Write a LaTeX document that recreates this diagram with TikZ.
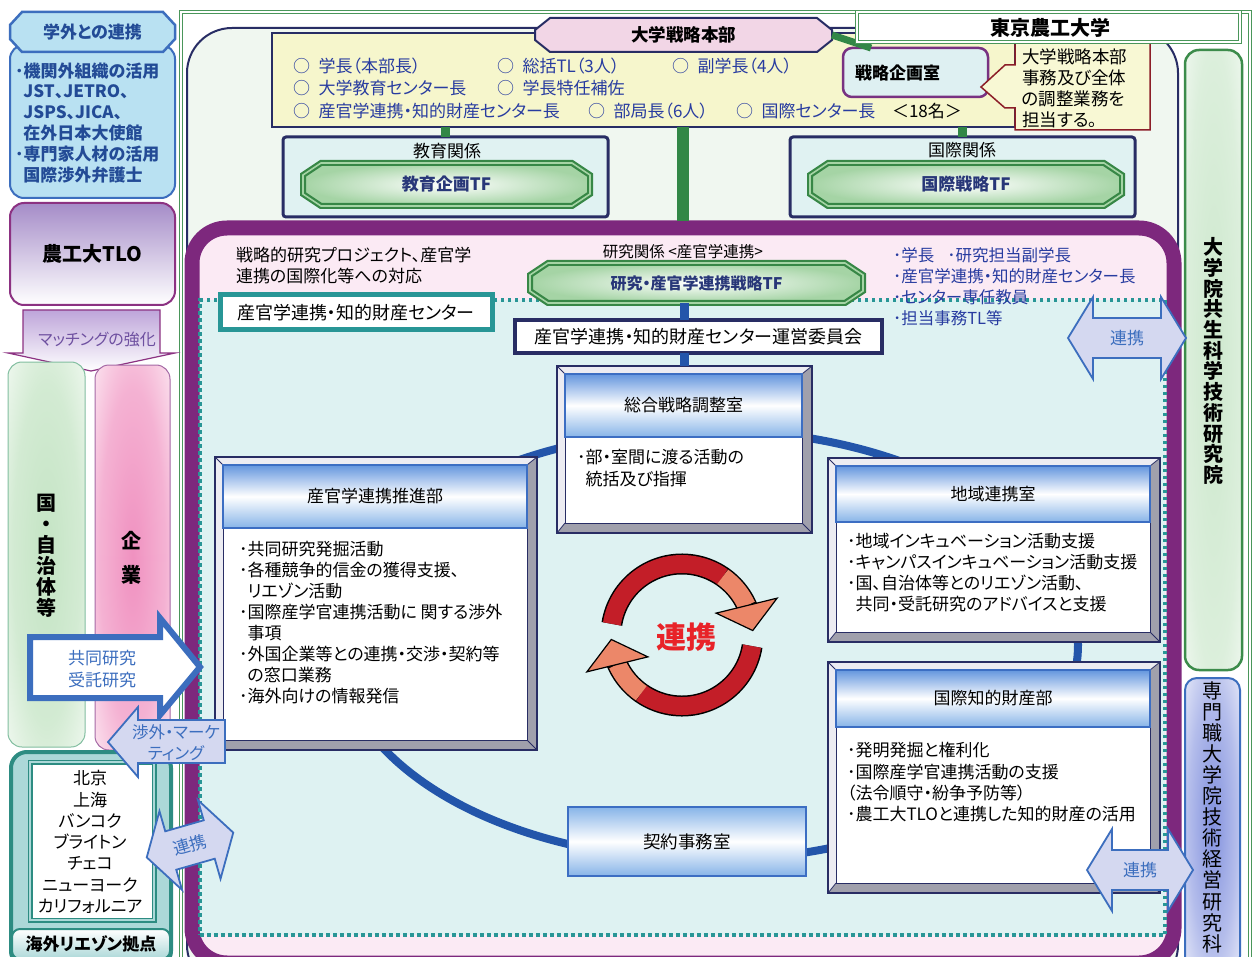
\documentclass[tikz,border=0pt]{standalone}
\usepackage{fontspec}
\setmainfont{Noto Sans CJK JP}[RawFeature=+palt]
\usepackage{tikz}
\usetikzlibrary{positioning}
\usetikzlibrary{arrows.meta}
\usetikzlibrary{bending}

\definecolor{frameGreen}{RGB}{74,150,90}
\definecolor{boxNavy}{RGB}{40,45,100}
\definecolor{mintBg}{RGB}{240,247,240}
\definecolor{hqYellow}{RGB}{246,246,204}
\definecolor{hqPink}{RGB}{242,214,230}
\definecolor{memberBlue}{RGB}{40,60,160}
\definecolor{linkGreen}{RGB}{50,135,70}
\definecolor{plannerPurple}{RGB}{120,50,130}
\definecolor{plannerFill}{RGB}{222,240,242}
\definecolor{noteRed}{RGB}{140,30,40}
\definecolor{noteFill}{RGB}{248,248,212}
\definecolor{relFill}{RGB}{224,242,242}
\definecolor{tfGreen}{RGB}{55,135,70}
\definecolor{tfLight}{RGB}{165,212,165}
\definecolor{tfText}{RGB}{40,55,120}
\definecolor{bandPurple}{RGB}{125,40,125}
\definecolor{pinkBg}{RGB}{251,234,244}
\definecolor{tealLine}{RGB}{40,150,150}
\definecolor{tealBg}{RGB}{222,242,242}
\definecolor{ringBlue}{RGB}{35,85,170}
\definecolor{hdrTop}{RGB}{100,150,222}
\definecolor{hdrBot}{RGB}{135,180,232}
\definecolor{hdrLine}{RGB}{60,110,195}
\definecolor{bevDark}{RGB}{160,160,172}
\definecolor{bevLight}{RGB}{236,236,242}
\definecolor{cycleRed}{RGB}{195,30,40}
\definecolor{cycleSalmon}{RGB}{236,135,105}
\definecolor{cycleText}{RGB}{232,35,40}
\definecolor{arrowBlue}{RGB}{60,110,190}
\definecolor{lavFill}{RGB}{212,216,240}
\definecolor{extFill}{RGB}{185,225,242}
\definecolor{extText}{RGB}{35,75,150}
\definecolor{tloPurple}{RGB}{140,50,130}
\definecolor{tloTop}{RGB}{165,140,200}
\definecolor{matchTop}{RGB}{190,165,218}
\definecolor{matchText}{RGB}{110,80,160}
\definecolor{govLine}{RGB}{130,190,160}
\definecolor{govGreen}{RGB}{196,228,196}
\definecolor{compLine}{RGB}{165,105,165}
\definecolor{compPink}{RGB}{240,145,192}
\definecolor{liaisonTeal}{RGB}{45,140,130}
\definecolor{liaisonFill}{RGB}{172,216,216}
\definecolor{gradGreen}{RGB}{60,140,75}
\definecolor{gradFill}{RGB}{205,232,205}
\definecolor{motFill}{RGB}{130,145,222}

\pgfdeclareradialshading{pinkglow}{\pgfpoint{0bp}{0bp}}{color(0bp)=(compPink); color(22bp)=(compPink!70!white); color(44bp)=(white); color(50bp)=(white)}
\pgfdeclareradialshading{greenglow}{\pgfpoint{0bp}{0bp}}{color(0bp)=(govGreen); color(22bp)=(govGreen!75!white); color(44bp)=(white); color(50bp)=(white)}
\pgfdeclareradialshading{gradglow}{\pgfpoint{0bp}{0bp}}{color(0bp)=(gradFill); color(25bp)=(gradFill!70!white); color(46bp)=(white); color(50bp)=(white)}
\pgfdeclareradialshading{motglow}{\pgfpoint{0bp}{0bp}}{color(0bp)=(motFill); color(22bp)=(motFill!60!white); color(44bp)=(white); color(50bp)=(white)}

\newcommand{\sz}[2]{\fontsize{#1}{#2}\selectfont}
% octagon or hexagon box with a named node on top %
\newcommand{\chambox}[9]{%
	\draw[#1] ({#3+#7},#4) -- ({#5-#7},#4) -- (#5,{#4+#8}) -- (#5,{#6-#8}) -- ({#5-#7},#6) -- ({#3+#7},#6) -- (#3,{#6-#8}) -- (#3,{#4+#8}) -- cycle;
	\node[#1 text, minimum width={#5-#3}, minimum height={#6-#4}] (#2) at ({(#3+#5)/2},{(#4+#6)/2}) {#9};}
% bevelled office box with a shaded header %
\newcommand{\bevelbox}[7]{%
	\draw[boxNavy, line width=1.5pt, fill=bevDark] (#2,#3) rectangle (#4,#5);
	\fill[bevLight] (#2,#3) -- (#4,#3) -- ({#4-10},{#3+8}) -- ({#2+8},{#3+8}) -- ({#2+8},{#5-10}) -- (#2,#5) -- cycle;
	\draw[boxNavy, line width=0.8pt] (#2,#3) -- ({#2+8},{#3+8}) (#4,#3) -- ({#4-10},{#3+8}) (#2,#5) -- ({#2+8},{#5-10}) (#4,#5) -- ({#4-10},{#5-10});
	\draw[boxNavy, line width=1.5pt] (#2,#3) rectangle (#4,#5);
	\draw[boxNavy, line width=1pt, fill=white] ({#2+8},{#3+8}) rectangle ({#4-10},{#5-10});
	\draw[hdrbox] ({#2+8},{#3+8}) rectangle ({#4-10},#6) node[pos=.5, font=\sz{17}{20}] (#1) {#7};
	\coordinate (#1-top) at ({(#2+#4)/2},#3);}
% two headed link arrow %
\newcommand{\linkarrow}[4]{%
	\begin{scope}[shift={#2}, rotate=#3]
	\draw[linkarrow] (-#4,0) -- ({-#4+25},-41) -- ({-#4+25},-20) -- ({#4-25},-20) -- ({#4-25},-41) -- (#4,0) -- ({#4-25},41) -- ({#4-25},20) -- ({-#4+25},20) -- ({-#4+25},41) -- cycle;
	\node[linktext, rotate=#3] (#1) at (0,0) {連携};
	\end{scope}}

\begin{document}
\begin{tikzpicture}[x=1pt, y=-1pt,
	every node/.style={inner sep=0pt, outer sep=0pt},
	body/.style={font=\sz{17}{21}, align=left, anchor=north west},
	member/.style={font=\sz{17}{20}, text=memberBlue, anchor=west},
	relbox/.style={draw=boxNavy, line width=3pt, fill=relFill, rounded corners=3pt},
	tf/.style={draw=tfGreen, line width=2.2pt, double=tfLight, double distance=1.6pt, inner color=white, outer color=tfLight},
	tf text/.style={font=\sz{17}{20}\bfseries, text=tfText},
	hexlabel/.style={draw=boxNavy, line width=2pt, fill=hqPink},
	hexlabel text/.style={font=\sz{17.5}{20}\bfseries},
	extlabel/.style={draw=arrowBlue, line width=2.5pt, fill=extFill},
	extlabel text/.style={font=\sz{17}{20}\bfseries, text=extText},
	hdrbox/.style={draw=hdrLine, line width=2pt, top color=hdrTop, bottom color=hdrBot, middle color=white},
	linkarrow/.style={draw=arrowBlue, line width=1.8pt, fill=lavFill, line join=miter},
	linktext/.style={font=\sz{17}{20}, text=arrowBlue},
	vtext/.style={align=center, text width=24pt}]

	% Canvas %
	\useasboundingbox (0,0) rectangle (1260,957);
	\fill[white] (0,0) rectangle (1260,957);
	% University frame %
	\draw[frameGreen, line width=1pt, double=white, double distance=2pt] (181,12) rectangle (1250,975);
	\draw[boxNavy, line width=2pt, fill=mintBg, rounded corners=45pt] (187,28) rectangle (1178,990);
	% Strategy headquarters %
	\node[draw=boxNavy, line width=2pt, fill=hqYellow, minimum width=743pt, minimum height=94pt] (hq) at (643.5,80) {};
	\chambox{hexlabel}{hqlabel}{535}{18}{832}{52}{15}{12}{大学戦略本部}
	\node[member] (m1) at (293,66) {○\hspace{0.5em}学長（本部長）};
	\node[member] (m2) at (497,66) {○\hspace{0.5em}総括TL（3人）};
	\node[member] (m3) at (672,66) {○\hspace{0.5em}副学長（4人）};
	\node[member] (m4) at (293,88) {○\hspace{0.5em}大学教育センター長};
	\node[member] (m5) at (497,88) {○\hspace{0.5em}学長特任補佐};
	\node[member] (m6) at (293,111) {○\hspace{0.5em}産官学連携・知的財産センター長};
	\node[member] (m7) at (588,111) {○\hspace{0.5em}部局長（6人）};
	\node[member] (m8) at (736,111) {○\hspace{0.5em}国際センター長};
	\node[member, text=black] (total) at (892,111) {＜18名＞};
	% Planning office %
	\node[draw=plannerPurple, line width=2.5pt, fill=plannerFill, rounded corners=9pt, minimum width=145pt, minimum height=49pt] (planner) at (915.5,72.5) {};
	\node[font=\sz{17}{20}\bfseries, anchor=west] (plannertext) at (855,73) {戦略企画室};
	\draw[linkGreen, line width=7pt] (hqlabel.east) -- ([xshift=28pt]planner.north west);
	\draw[noteRed, line width=1.5pt, fill=noteFill] (1015,42) -- (1150,42) -- (1150,130) -- (1015,130) -- (1015,108) -- (1005,108) -- (981,87) -- (1005,65) -- (1015,65) -- cycle;
	\node[body, font=\sz{17.5}{21}] (note) at (1022,48.5) {大学戦略本部\\事務及び全体\\の調整業務を\\担当する。};
	\node[draw=frameGreen, line width=1pt, double=white, double distance=1.5pt, fill=white, minimum width=383pt, minimum height=30pt] (univ) at (1048.5,27) {};
	\node[font=\sz{20}{24}\bfseries] (univtext) at (1050,28) {東京農工大学};
	% Education and international %
	\node[relbox, minimum width=325pt, minimum height=80pt] (edu) at (445.5,177) {};
	\node[font=\sz{17}{20}] (edutitle) at (447,151) {教育関係};
	\chambox{tf}{edutf}{303}{163}{590}{206}{18}{12}{教育企画TF}
	\node[relbox, minimum width=345pt, minimum height=80pt] (intl) at (962.5,177) {};
	\node[font=\sz{17}{20}] (intltitle) at (962,150) {国際関係};
	\chambox{tf}{intltf}{810}{163}{1122}{206}{18}{12}{国際戦略TF}
	\draw[linkGreen, line width=9pt] (hq.south -| edu.north) -- (edu.north);
	\draw[linkGreen, line width=9pt] (hq.south -| intl.north) -- (intl.north);
	% Research area %
	\node[draw=bandPurple, line width=15pt, fill=pinkBg, rounded corners=35pt, minimum width=982pt, minimum height=735pt] (research) at (683,595.5) {};
	\draw[linkGreen, line width=12pt] (hq.south -| research.north) -- ([yshift=7pt]research.north);
	\node[draw=tealLine, line width=3.5pt, dash pattern=on 3.5pt off 3.5pt, fill=tealBg, minimum width=965pt, minimum height=635pt] (centre) at (682.5,617.5) {};
	\node[body] (project) at (236,247.5) {戦略的研究プロジェクト、産官学\\連携の国際化等への対応};
	\node[font=\sz{15.5}{18}] (reslabel) at (683,252) {研究関係 <産官学連携>};
	\chambox{tf}{restf}{530}{263}{863}{303}{18}{12}{\sz{16}{20}研究・産官学連携戦略TF}
	\node[body, font=\sz{16.5}{21}, text=memberBlue] (resmembers) at (893,247.5) {･学長\hspace{0.8em}･研究担当副学長\\･産官学連携・知的財産センター長\\･センター専任教員\\･担当事務TL等};
	\node[draw=tealLine, line width=5pt, fill=white, minimum width=272pt, minimum height=35pt, font=\sz{18}{20}] (ipcentre) at (356,312.5) {産官学連携・知的財産センター};
	\node[draw=boxNavy, line width=3.5pt, fill=white, minimum width=367pt, minimum height=33pt, font=\sz{18}{20}] (committee) at (698.5,336.5) {産官学連携・知的財産センター運営委員会};
	% Ring %
	\draw[ringBlue, line width=8pt] (708,645) ellipse [x radius=370, y radius=215];
	% Offices %
	\bevelbox{sogo}{557}{366}{812}{533}{437}{総合戦略調整室}
	\bevelbox{suishin}{215}{457}{537}{750}{528}{産官学連携推進部}
	\bevelbox{chiiki}{828}{458}{1160}{642}{522}{地域連携室}
	\bevelbox{kokusai}{828}{662}{1160}{893}{727}{国際知的財産部}
	\draw[ringBlue, line width=9pt] (restf.south -| sogo-top) -- (committee.north -| sogo-top);
	\draw[ringBlue, line width=9pt] (committee.south -| sogo-top) -- (sogo-top);
	\node[body, font=\sz{17}{22}] (sogobody) at (577,449.5) {･部・室間に渡る活動の\\\hspace*{0.5em}統括及び指揮};
	\node[body] (suishinbody) at (239,541.5) {･共同研究発掘活動\\･各種競争的信金の獲得支援、\\\hspace*{0.5em}リエゾン活動\\･国際産学官連携活動に 関する渉外\\\hspace*{0.5em}事項\\･外国企業等との連携・交渉・契約等\\\hspace*{0.5em}の窓口業務\\･海外向けの情報発信};
	\node[body] (chiikibody) at (847,533.5) {･地域インキュベーション活動支援\\･キャンパスインキュベーション活動支援\\･国、自治体等とのリエゾン活動、\\\hspace*{0.5em}共同・受託研究のアドバイスと支援};
	\node[body, font=\sz{17}{21.3}] (kokusaibody) at (847,742.5) {･発明発掘と権利化\\･国際産学官連携活動の支援\\（法令順守・紛争予防等）\\･農工大TLOと連携した知的財産の活用};
	\node[draw=hdrLine, line width=2.5pt, top color=hdrBot, bottom color=hdrBot, middle color=white, minimum width=238pt, minimum height=69pt, font=\sz{17.5}{20}] (keiyaku) at (687,841.5) {契約事務室};
	% Cycle %
	\draw[black, line width=21pt] (682,635) ++(189:71) arc[start angle=189, end angle=338, radius=71];
	\draw[cycleRed, line width=18pt] (682,635) ++(189:71) arc[start angle=189, end angle=305, radius=71];
	\draw[cycleSalmon, line width=18pt, -{Triangle[length=27pt, width=66pt, fill=cycleSalmon, color=black, line width=1.2pt]}] (682,635) ++(305:71) arc[start angle=305, end angle=357, radius=71];
	\draw[black, line width=21pt] (682,635) ++(9:71) arc[start angle=9, end angle=158, radius=71];
	\draw[cycleRed, line width=18pt] (682,635) ++(9:71) arc[start angle=9, end angle=125, radius=71];
	\draw[cycleSalmon, line width=18pt, -{Triangle[length=27pt, width=66pt, fill=cycleSalmon, color=black, line width=1.2pt]}] (682,635) ++(125:71) arc[start angle=125, end angle=177, radius=71];
	\node[font=\sz{30}{32}\bfseries, text=cycleText] (cycletext) at (686,637) {連携};
	% Outside partners %
	\node[draw=arrowBlue, line width=2pt, fill=extFill, rounded corners=14pt, minimum width=165pt, minimum height=153pt] (extbox) at (92.5,121.5) {};
	\node[body, font=\sz{17}{20.8}\bfseries, text=extText] (extlist) at (15,62.5) {･機関外組織の活用\\\hspace*{0.5em}JST、JETRO、\\\hspace*{0.5em}JSPS、JICA、\\\hspace*{0.5em}在外日本大使館\\･専門家人材の活用\\\hspace*{0.5em}国際渉外弁護士};
	\chambox{extlabel}{gakugai}{10}{12}{175}{52}{12}{13}{学外との連携}
	\node[draw=tloPurple, line width=2pt, top color=tloTop, bottom color=white, rounded corners=14pt, minimum width=165pt, minimum height=102pt, font=\sz{20}{24}\bfseries] (tlo) at (92.5,254) {農工大TLO};
	\draw[tloPurple, line width=1.2pt, top color=matchTop, bottom color=white] (23,310) -- (160,310) -- (160,353) -- (175,353) -- (91,371) -- (8,353) -- (23,353) -- cycle;
	\node[font=\sz{16}{20}, text=matchText] (matching) at (97,339) {マッチングの強化};
	% Government and companies %
	\node[draw=govLine, line width=1pt, shade, shading=greenglow, rounded corners=14pt, minimum width=77pt, minimum height=385pt] (govcol) at (46.5,554.5) {};
	\node[vtext, font=\sz{20}{21}\bfseries] (govtext) at (46,556) {国\\・\\自\\治\\体\\等};
	\node[draw=compLine, line width=1pt, shade, shading=pinkglow, rounded corners=14pt, minimum width=75pt, minimum height=385pt] (compcol) at (132.5,557.5) {};
	\node[vtext, font=\sz{20}{34}\bfseries] (comptext) at (131,558) {企\\業};
	\draw[arrowBlue, line width=6pt, fill=white, line join=miter] (30,637) -- (160,637) -- (160,618) -- (200,667) -- (160,715) -- (160,698) -- (30,698) -- cycle;
	\node[font=\sz{17}{22}, text=arrowBlue, align=center] (joint) at (102,669) {共同研究\\受託研究};
	% Overseas liaison %
	\node[draw=liaisonTeal, line width=4pt, fill=liaisonFill, rounded corners=16pt, minimum width=160pt, minimum height=215pt] (liaison) at (91,859.5) {};
	\node[draw=liaisonTeal, line width=1.5pt, double=liaisonFill, double distance=2pt, fill=white, minimum width=124pt, minimum height=158pt] (citybox) at (92,841) {};
	\node[font=\sz{17}{21.3}, align=center] (cities) at (90,842) {北京\\上海\\バンコク\\ブライトン\\チェコ\\ニューヨーク\\カリフォルニア};
	\node[draw=liaisonTeal, line width=2pt, top color=white, bottom color=liaisonFill, rounded corners=8pt, minimum width=158pt, minimum height=30pt, font=\sz{17}{20}\bfseries] (liaisonlabel) at (91,944) {海外リエゾン拠点};
	\linkarrow{ovlink}{(190,845)}{16}{45}
	\draw[linkarrow] (108,742) -- (138,707) -- (138,720) -- (225,720) -- (225,763) -- (138,763) -- (138,777) -- cycle;
	\node[font=\sz{16.5}{21}, text=arrowBlue, align=center] (shogai) at (176,743) {渉外・マーケ\\ティング};
	% Graduate schools %
	\node[draw=gradGreen, line width=2.5pt, shade, shading=gradglow, rounded corners=14pt, minimum width=57pt, minimum height=620pt] (gradschool) at (1213.5,360) {};
	\node[vtext, font=\sz{20}{20.7}\bfseries] (gradtext) at (1213,361) {大\\学\\院\\共\\生\\科\\学\\技\\術\\研\\究\\院};
	\node[draw=arrowBlue, line width=2pt, shade, shading=motglow, rounded corners=12pt, minimum width=55pt, minimum height=290pt] (mot) at (1212.5,823) {};
	\node[vtext, font=\sz{20}{21.1}] (mottext) at (1212,817) {専\\門\\職\\大\\学\\院\\技\\術\\経\\営\\研\\究\\科};
	\linkarrow{gradlink}{(1127,338)}{0}{59}
	\linkarrow{motlink}{(1140,870)}{0}{53}
\end{tikzpicture}
\end{document}
